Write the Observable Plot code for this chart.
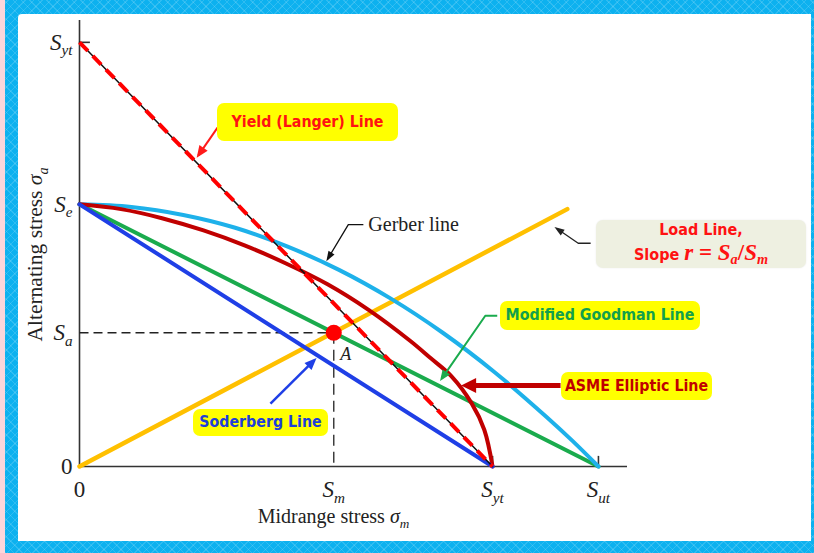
<!DOCTYPE html>
<html>
<head>
<meta charset="utf-8">
<script src="https://cdn.jsdelivr.net/npm/d3@7"></script>
<script src="https://cdn.jsdelivr.net/npm/@observablehq/plot@0.6"></script>
<style>
  html, body { margin: 0; padding: 0; background: #fff; }
  #stage { position: relative; width: 814px; height: 553px; overflow: hidden; background: #fbd6db; }
  #frame {
    position: absolute; left: 5px; top: 0; right: 0; bottom: 0;
    background-color: #0db1ef;
    background-image:
      repeating-linear-gradient(45deg, rgba(255,255,255,0.14) 0 1px, transparent 1px 6px),
      repeating-linear-gradient(-45deg, rgba(255,255,255,0.14) 0 1px, transparent 1px 6px);
  }
  #sheet { position: absolute; left: 18px; top: 14px; width: 793px; height: 527px; background: #fff; border-top-left-radius: 4px; }
  #chart { position: absolute; left: 0; top: 0; }
  .callout {
    position: absolute; box-sizing: border-box; border-radius: 7px;
    display: flex; flex-direction: column; align-items: center; justify-content: center;
    font-family: "DejaVu Sans Condensed", "DejaVu Sans", sans-serif;
    font-weight: bold; font-size: 15.8px; white-space: nowrap; line-height: 1.15;
  }
  .yellow { background: #ffff00; }
  .load { background: #eef0e1; box-shadow: 0 0 2px rgba(0,0,0,0.08); font-size: 16px; }
  .math { font-family: "Liberation Serif", serif; font-weight: bold; font-size: 23px; }
  .math sub { font-size: 0.62em; vertical-align: -0.25em; }
</style>
</head>
<body>
<div id="stage">
  <div id="frame"></div>
  <div id="sheet"></div>
  <div id="chart"></div>
  <div class="callout yellow" style="left:217px;top:103px;width:181px;height:38px;color:#ff1212;">Yield (Langer) Line</div>
  <div class="callout load" style="left:596px;top:220px;width:210px;height:48px;color:#ff1212;">
    <div>Load Line,</div>
    <div>Slope <span class="math"><i>r</i> = <i>S</i><sub><i>a</i></sub>/<i>S</i><sub><i>m</i></sub></span></div>
  </div>
  <div class="callout yellow" style="left:500px;top:301px;width:200px;height:29px;color:#12a04c;">Modified Goodman Line</div>
  <div class="callout yellow" style="left:561px;top:372px;width:151px;height:28px;color:#c00000;">ASME Elliptic Line</div>
  <div class="callout yellow" style="left:193px;top:409px;width:135px;height:27px;color:#1f3fd8;">Soderberg Line</div>
</div>
<script>
// Strengths (ultimate, yield, endurance) and the strength pair at point A
const Sut = 100, Syt = 79.6, Se = 49.2;
const Sm = 49, Sa = 25.1;

// Axis positions and their symbolic labels ("_" starts a subscript)
const xTickValues = [0, Sm, Syt, Sut];
const xTickLabels = ["0", "S_m", "S_yt", "S_ut"];
const yTickValues = [0, Sa, Se, Syt];
const yTickLabels = ["0", "S_a", "S_e", "S_yt"];

// Straight failure criteria and the load line, as [σm, σa] pairs
const goodman = [[0, Se], [Sut, 0]];
const soderberg = [[0, Se], [Syt, 0]];
const langer = [[0, Syt], [Syt, 0]];
const loadLine = [[0, 0], [94, 48.3]];

// Curved criteria
const gerberSm = [0, 10, 20, 30, 40, 50, 60, 70, 80, 90, 95, 100];
const gerberSa = [49.2, 48.7, 47.2, 44.8, 41.3, 36.9, 31.5, 25.1, 17.7, 9.3, 4.8, 0];
const asmeSm = [0, 8.0, 15.9, 23.9, 31.8, 39.8, 47.8, 55.7, 63.7, 67.7, 71.6, 75.6, 78.0, 79.6];
const asmeSa = [49.2, 48.3, 46.6, 44.3, 41.5, 38.1, 34.2, 29.4, 23.6, 20.3, 17.0, 11.8, 6.9, 0];

// Callout leaders: polyline in chart units, arrowhead [length, width] in pixels
const leaders = [
  {color: "#ff1a1a", width: 2, head: [12, 10], points: [[26.6, 63.6], [22.9, 58.4]]},
  {color: "#111111", width: 1.3, head: [10, 7], points: [[54.7, 45.4], [51.8, 45.4], [47.8, 38.9]]},
  {color: "#222222", width: 1.3, head: [10, 7], points: [[98.5, 41.9], [96.1, 41.9], [91.9, 44.7]]},
  {color: "#1aab4d", width: 2, head: [11, 9], points: [[80.5, 28.3], [78.2, 28.3], [69.8, 16.5]]},
  {color: "#c00000", width: 5, head: [15, 15], points: [[92.7, 15.2], [74.6, 15.2]]},
  {color: "#1f3fe6", width: 2.5, head: [12, 10], points: [[36.8, 11.8], [45.2, 19.9]]}
];

const axisColor = "#333";
const ink = "#222";
const serif = "Liberation Serif, Times New Roman, serif";

const plot = Plot.plot({
  width: 814,
  height: 553,
  marginLeft: 79,
  marginRight: 187,
  marginTop: 20,
  marginBottom: 87,
  x: {domain: [0, 105.6], axis: null},
  y: {domain: [0, 83.7], axis: null},
  style: {background: "transparent", overflow: "visible", fontFamily: serif},
  marks: [
    // axes and the few tick marks
    Plot.ruleX([0], {stroke: axisColor, strokeWidth: 1.6}),
    Plot.ruleY([0], {stroke: axisColor, strokeWidth: 1.6}),
    Plot.ruleY([Syt], {x1: 0, x2: 2.1, stroke: axisColor, strokeWidth: 1.6}),
    Plot.ruleX([Syt, Sut], {y1: 0, y2: 1.9, stroke: axisColor, strokeWidth: 1.6}),

    // guides to point A
    Plot.line([[0, Sa], [Sm, Sa]], {stroke: ink, strokeWidth: 1.3, strokeDasharray: "9,5", strokeLinecap: "butt"}),
    Plot.line([[Sm, Sa], [Sm, 0]], {stroke: ink, strokeWidth: 1.3, strokeDasharray: "11,6", strokeLinecap: "butt"}),

    // load line and failure criteria
    Plot.line(loadLine, {stroke: "#ffc000", strokeWidth: 4.5}),
    Plot.line(goodman, {stroke: "#1aab4d", strokeWidth: 4}),
    Plot.line(gerberSm, {x: gerberSm, y: gerberSa, curve: "catmull-rom", stroke: "#1eb1ea", strokeWidth: 4}),
    Plot.line(asmeSm, {x: asmeSm, y: asmeSa, curve: "catmull-rom", stroke: "#c00000", strokeWidth: 4}),
    Plot.line(soderberg, {stroke: "#1f3fe6", strokeWidth: 4}),
    Plot.line(langer, {stroke: "#111", strokeWidth: 1.5}),
    Plot.line(langer, {stroke: "#ff0000", strokeWidth: 4, strokeDasharray: "12,7", strokeLinecap: "butt"}),

    // operating point A
    Plot.dot([[Sm, Sa]], {r: 8, fill: "#ff0000", stroke: "none"}),
    Plot.text([[Sm, Sa]], {text: ["A"], dx: 12, dy: 21, fontSize: 18, fontStyle: "italic", fill: ink}),

    // callout leaders
    ...leaders.map((l, k) => Plot.line(l.points, {
      stroke: l.color, strokeWidth: l.width, strokeLinecap: "butt", ariaDescription: `leader-${k}`
    })),
    Plot.text([leaders[1].points[0]], {text: ["Gerber line"], dx: 5, textAnchor: "start", fontSize: 20, fill: ink}),

    // tick labels
    Plot.text(yTickValues, {x: 0, y: yTickValues, text: yTickLabels, dx: -7, textAnchor: "end", fontSize: 23, fill: ink}),
    Plot.text(xTickValues, {x: xTickValues, y: 0, text: xTickLabels, dy: 23, fontSize: 23, fill: ink}),

    // axis titles
    Plot.text(["Alternating stress σ_a"], {frameAnchor: "left", textAnchor: "middle", rotate: -90, dx: -44, dy: 11, fontSize: 21.5, fill: ink}),
    Plot.text(["Midrange stress σ_m"], {frameAnchor: "bottom", textAnchor: "middle", dx: -20, dy: 56, fontSize: 20, fill: ink})
  ]
});

const svg = d3.select(plot);

// "S_yt" → italic symbol with a lowered subscript
svg.selectAll("text").each(function () {
  const s = this.textContent;
  const i = s.indexOf("_");
  if (i < 0) return;
  const main = s.slice(0, i), sub = s.slice(i + 1);
  const head = main.slice(0, -1), sym = main.slice(-1);
  const t = d3.select(this);
  t.text(null);
  if (head) t.append("tspan").text(head);
  t.append("tspan").attr("font-style", "italic").text(sym);
  t.append("tspan").attr("font-style", "italic").attr("font-size", "0.66em").attr("dy", "0.38em").text(sub);
});

// filled arrowheads for the callout leaders
const defs = svg.insert("defs", ":first-child");
leaders.forEach((l, k) => {
  const [L, W] = l.head;
  const tip = L * l.width / W + 0.5;
  defs.append("marker")
    .attr("id", `head-${k}`)
    .attr("markerUnits", "userSpaceOnUse")
    .attr("orient", "auto")
    .attr("viewBox", `${tip - L - 1} ${-W / 2 - 1} ${L + 2} ${W + 2}`)
    .attr("markerWidth", L + 2)
    .attr("markerHeight", W + 2)
    .attr("refX", 0)
    .attr("refY", 0)
    .append("path")
    .attr("d", `M${tip},0L${tip - L},${-W / 2}L${tip - L},${W / 2}Z`)
    .attr("fill", l.color);
  svg.select(`g[aria-description="leader-${k}"]`).selectAll("path").attr("marker-end", `url(#head-${k})`);
});

document.getElementById("chart").append(plot);
</script>
</body>
</html>
